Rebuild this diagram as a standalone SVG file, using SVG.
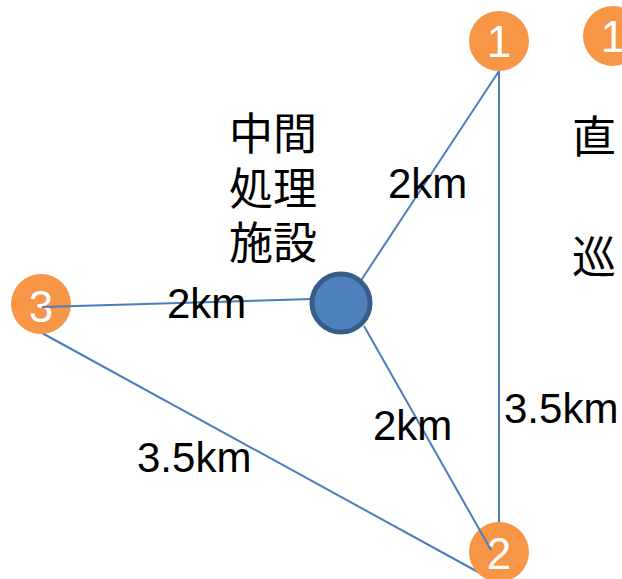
<svg xmlns="http://www.w3.org/2000/svg" width="622" height="579" viewBox="0 0 622 579">
<style>
.edge{stroke:#4a7ebb;stroke-width:2;fill:none}
.node{fill:#f79646}
.num{font-family:"Liberation Sans",Arial,sans-serif;font-size:44px;fill:#ffffff;text-anchor:middle}
.lbl{font-family:"Liberation Sans",Arial,sans-serif;font-size:42px;fill:#000000}
.cjk{font-family:"Noto Sans CJK JP","Noto Sans CJK SC",sans-serif;font-size:44px;fill:#000000}
</style>
<rect width="622" height="579" fill="#ffffff"/>
<g id="connectors-under">
<line class="edge" x1="499" y1="71" x2="360" y2="282"/>
<line class="edge" x1="499" y1="71" x2="499" y2="522"/>
<line class="edge" x1="42" y1="333" x2="478" y2="572"/>
</g>
<g id="node1"><circle class="node" cx="499" cy="41" r="30"/><text class="num" x="499" y="57">1</text></g>
<g id="node1b"><circle class="node" cx="613" cy="36" r="30"/><text class="num" x="613" y="52">1</text></g>
<g id="node2"><circle class="node" cx="499" cy="552" r="30"/><text class="num" x="499" y="569">2</text></g>
<g id="node3"><circle class="node" cx="41" cy="304" r="30"/><text class="num" x="41" y="322">3</text></g>
<g id="connectors">
<line class="edge" x1="42" y1="307" x2="312" y2="299"/>
<line class="edge" x1="364" y1="326" x2="491" y2="550"/>
</g>
<g id="center"><circle cx="341" cy="303" r="29" fill="#4f81bd" stroke="#385d8a" stroke-width="5"/></g>
<g id="labels">
<text class="lbl" x="388" y="198">2km</text>
<text class="lbl" x="167" y="318">2km</text>
<text class="lbl" x="373" y="440">2km</text>
<text class="lbl" x="137" y="472">3.5km</text>
<text class="lbl" x="504" y="423">3.5km</text>
</g>
<g id="facility-label">
<text class="cjk" x="229" y="150">中間</text>
<text class="cjk" x="229" y="205">処理</text>
<text class="cjk" x="229" y="259">施設</text>
</g>
<text class="cjk" x="572" y="153">直</text>
<text class="cjk" x="572" y="273">巡</text>
</svg>
